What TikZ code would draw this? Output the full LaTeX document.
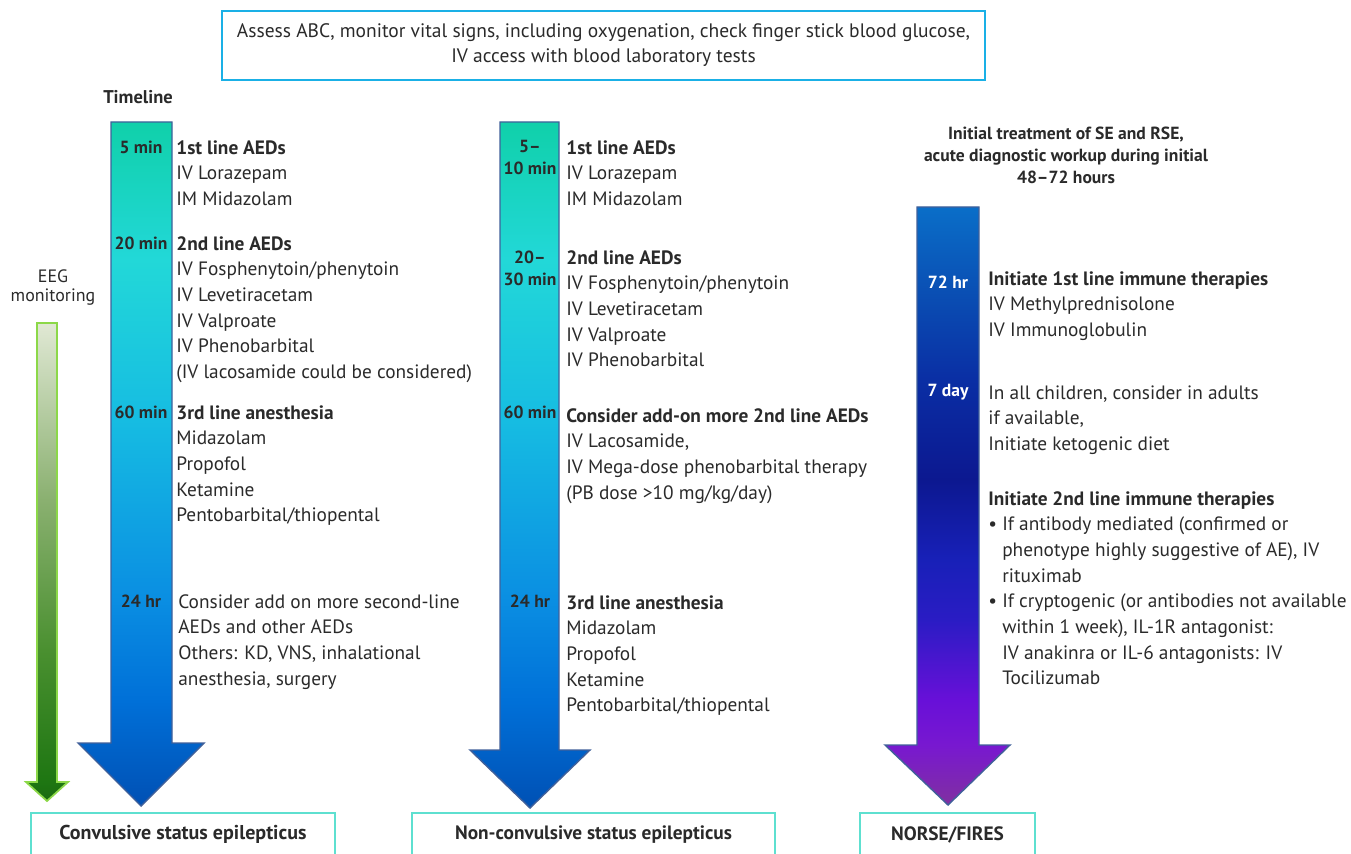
\documentclass[tikz,border=0pt]{standalone}
\usepackage{fontspec}
\setmainfont{PT Sans}

\definecolor{topline}{HTML}{1AB0E6}
\definecolor{boxline}{HTML}{5EE0D0}
\definecolor{arrline}{HTML}{40609A}
\definecolor{eegline}{HTML}{8CD848}
\definecolor{txt}{HTML}{2A2A2A}
% colours of the arrows, bottom to top
\definecolor{cvA}{HTML}{0050B4}\definecolor{cvB}{HTML}{0070D8}\definecolor{cvC}{HTML}{0A8EE2}
\definecolor{cvD}{HTML}{16BCE2}\definecolor{cvE}{HTML}{22D8D8}\definecolor{cvF}{HTML}{10D0AA}
\definecolor{nsA}{HTML}{8030A0}\definecolor{nsB}{HTML}{7818D0}\definecolor{nsC}{HTML}{6810D8}
\definecolor{nsD}{HTML}{2A1CC4}\definecolor{nsE}{HTML}{1820B8}\definecolor{nsF}{HTML}{0C1890}
\definecolor{nsG}{HTML}{0A2EA4}\definecolor{nsH}{HTML}{0A4CB2}\definecolor{nsI}{HTML}{0A6EC8}
\definecolor{egA}{HTML}{1A6A10}\definecolor{egB}{HTML}{1E7612}\definecolor{egC}{HTML}{4A9030}
\definecolor{egD}{HTML}{8AB070}\definecolor{egE}{HTML}{E0E8D4}

\pgfdeclareverticalshading{cseshade}{100bp}{color(0bp)=(cvA); color(25bp)=(cvA);
  color(32.7bp)=(cvB); color(40.1bp)=(cvC); color(53.2bp)=(cvD); color(64.9bp)=(cvE);
  color(75bp)=(cvF); color(100bp)=(cvF)}
\pgfdeclareverticalshading{norseshade}{100bp}{color(0bp)=(nsA); color(25bp)=(nsA);
  color(30bp)=(nsB); color(33.8bp)=(nsC); color(40.5bp)=(nsD); color(45.5bp)=(nsE);
  color(52.2bp)=(nsF); color(60.5bp)=(nsG); color(67.2bp)=(nsH); color(75bp)=(nsI); color(100bp)=(nsI)}
\pgfdeclareverticalshading{eegshade}{100bp}{color(0bp)=(egA); color(25bp)=(egA);
  color(27bp)=(egB); color(40.8bp)=(egC); color(56.5bp)=(egD); color(75bp)=(egE); color(100bp)=(egE)}

\tikzset{
  body/.style={anchor=north west, align=left, inner sep=0pt, text=txt, font=\fontsize{11}{14.6}\selectfont},
  tlabel/.style={inner sep=0pt, align=center, text=txt, font=\fontsize{10}{12.5}\selectfont\bfseries},
  endbox/.style={draw=boxline, line width=0.85pt, minimum height=0.86cm, text=txt, font=\fontsize{11}{13}\selectfont\bfseries},
}

\begin{document}
\begin{tikzpicture}[x=0.02cm, y=-0.02cm]
\useasboundingbox (0,0) rectangle (1351,854);
% first steps
\node[draw=topline, line width=1.1pt, minimum width=15.26cm, minimum height=1.38cm, align=center, text=txt,
  font=\fontsize{11.1}{14.2}\selectfont] (assess) at (603.5,45.5)
  {Assess ABC, monitor vital signs, including oxygenation, check finger stick blood glucose,\\IV access with blood laboratory tests};
\node[font=\fontsize{10.5}{12}\selectfont\bfseries, text=txt] (tline) at (138,97) {Timeline};
\node[align=center, text=txt, font=\fontsize{10.2}{10.8}\selectfont] (eeg) at (53,288) {EEG\\monitoring};

% arrows
\shade[shading=eegshade, draw=eegline, line width=1pt] (37,323) -- (57,323) -- (57,782) -- (68,782) -- (47,801) -- (26,782) -- (37,782) -- cycle;
\shade[shading=cseshade, draw=arrline, line width=0.8pt] (111,122) -- (172,122) -- (172,743) -- (204,743) -- (141,806) -- (78,743) -- (111,743) -- cycle;
\shade[shading=cseshade, draw=arrline, line width=0.8pt] (500,122) -- (559,122) -- (559,750) -- (590,750) -- (530,808) -- (470,750) -- (500,750) -- cycle;
\shade[shading=norseshade, draw=arrline, line width=0.8pt] (917,207) -- (979,207) -- (979,745) -- (1010,745) -- (948,805) -- (885,745) -- (917,745) -- cycle;

% convulsive SE
\node[tlabel] (ca) at (141,147) {5 min};
\node[tlabel] (cb) at (141,243) {20 min};
\node[tlabel] (cc) at (141,412) {60 min};
\node[tlabel] (cd) at (141,601) {24 hr};
\node[body] (cat) at (176,140) {\textbf{1st line AEDs}\\IV Lorazepam\\IM Midazolam};
\node[body] (cbt) at (176,236) {\textbf{2nd line AEDs}\\IV Fosphenytoin/phenytoin\\IV Levetiracetam\\IV Valproate\\IV Phenobarbital\\(IV lacosamide could be considered)};
\node[body] (cct) at (176,405) {\textbf{3rd line anesthesia}\\Midazolam\\Propofol\\Ketamine\\Pentobarbital/thiopental};
\node[body] (cdt) at (178,594) {Consider add on more second-line\\AEDs and other AEDs\\Others: KD, VNS, inhalational\\anesthesia, surgery};
\node[endbox, minimum width=6.08cm, font=\fontsize{11.4}{13}\selectfont\bfseries] (cse) at (183,834.5) {Convulsive status epilepticus};

% non-convulsive SE
\node[tlabel] (na) at (530,157) {5--\\10 min};
\node[tlabel] (nb) at (530,268) {20--\\30 min};
\node[tlabel] (nc) at (530,412) {60 min};
\node[tlabel] (nd) at (530,601) {24 hr};
\node[body] (nat) at (566,140) {\textbf{1st line AEDs}\\IV Lorazepam\\IM Midazolam};
\node[body] (nbt) at (566,250) {\textbf{2nd line AEDs}\\IV Fosphenytoin/phenytoin\\IV Levetiracetam\\IV Valproate\\IV Phenobarbital};
\node[body] (nct) at (566,408) {\textbf{Consider add-on more 2nd line AEDs}\\IV Lacosamide,\\IV Mega-dose phenobarbital therapy\\(PB dose >10 mg/kg/day)};
\node[body] (ndt) at (566,595) {\textbf{3rd line anesthesia}\\Midazolam\\Propofol\\Ketamine\\Pentobarbital/thiopental};
\node[endbox, minimum width=7.26cm] (ncse) at (593.5,834.5) {Non-convulsive status epilepticus};

% NORSE/FIRES
\node[anchor=north, align=center, inner sep=0pt, text=txt, font=\fontsize{10}{12.5}\selectfont\bfseries] (nhead) at (1066,127)
  {Initial treatment of SE and RSE,\\acute diagnostic workup during initial\\48--72 hours};
\node[tlabel, text=white] (ra) at (948,282) {72 hr};
\node[tlabel, text=white] (rb) at (948,392) {7 day};
\node[body] (rat) at (988,271) {\textbf{Initiate 1st line immune therapies}\\IV Methylprednisolone\\IV Immunoglobulin};
\node[body] (rbt) at (988,385) {In all children, consider in adults\\if available,\\Initiate ketogenic diet};
\node[body] (rct) at (988,491) {\textbf{Initiate 2nd line immune therapies}\\
  \textbullet~If antibody mediated (confirmed or\\\phantom{\textbullet~}phenotype highly suggestive of AE), IV\\\phantom{\textbullet~}rituximab\\
  \textbullet~If cryptogenic (or antibodies not available\\\phantom{\textbullet~}within 1 week), IL-1R antagonist:\\\phantom{\textbullet~}IV anakinra or IL-6 antagonists: IV\\\phantom{\textbullet~}Tocilizumab};
\node[endbox, minimum width=3.5cm] (norse) at (947.5,834.5) {NORSE/FIRES};
\end{tikzpicture}
\end{document}
